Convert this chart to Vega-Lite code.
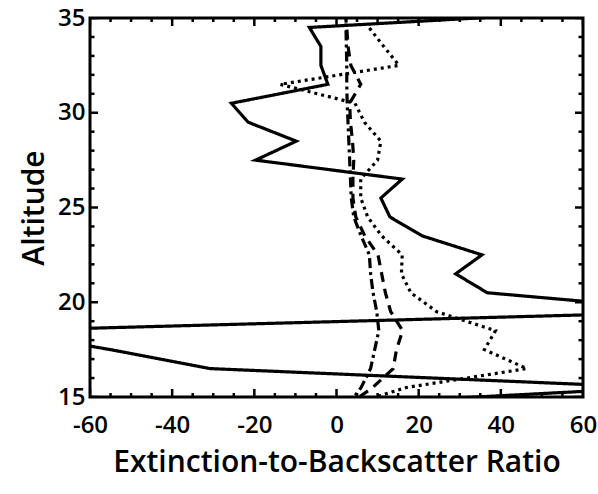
{
  "$schema": "https://vega.github.io/schema/vega-lite/v6.json",
  "width": 493,
  "height": 379,
  "autosize": "none",
  "padding": {"left": 90, "top": 18, "right": 15, "bottom": 97},
  "background": "white",
  "config": {
    "view": {"stroke": "black", "strokeWidth": 3},
    "font": "Open Sans",
    "axis": {"domain": false, "grid": false, "labelColor": "black", "titleColor": "black"}
  },
  "datasets": {
    "profiles": [
      {"s": "solid", "alt": 35.5, "v": 75}, {"s": "solid", "alt": 34.5, "v": -6.6}, {"s": "solid", "alt": 33.5, "v": -3.8}, {"s": "solid", "alt": 32.5, "v": -3.8}, {"s": "solid", "alt": 31.5, "v": -2.1}, {"s": "solid", "alt": 30.5, "v": -25.6}, {"s": "solid", "alt": 29.5, "v": -21.5}, {"s": "solid", "alt": 28.5, "v": -9.8}, {"s": "solid", "alt": 27.5, "v": -19.7}, {"s": "solid", "alt": 26.5, "v": 16.0}, {"s": "solid", "alt": 25.5, "v": 10.8}, {"s": "solid", "alt": 24.5, "v": 13.0}, {"s": "solid", "alt": 23.5, "v": 20.9}, {"s": "solid", "alt": 22.5, "v": 35.4}, {"s": "solid", "alt": 21.5, "v": 29.0}, {"s": "solid", "alt": 20.5, "v": 36.7}, {"s": "solid", "alt": 19.5, "v": 89}, {"s": "solid", "alt": 18.5, "v": -82}, {"s": "solid", "alt": 17.5, "v": -55}, {"s": "solid", "alt": 16.5, "v": -30.8}, {"s": "solid", "alt": 15.5, "v": 78}, {"s": "solid", "alt": 14.5, "v": -10},
      {"s": "dotted", "alt": 34.5, "v": 7.9}, {"s": "dotted", "alt": 33.5, "v": 11.5}, {"s": "dotted", "alt": 32.5, "v": 15.2}, {"s": "dotted", "alt": 31.5, "v": -13.7}, {"s": "dotted", "alt": 30.5, "v": 4.5}, {"s": "dotted", "alt": 29.5, "v": 6.8}, {"s": "dotted", "alt": 28.5, "v": 10.8}, {"s": "dotted", "alt": 27.5, "v": 10.0}, {"s": "dotted", "alt": 26.5, "v": 5.9}, {"s": "dotted", "alt": 25.5, "v": 5.9}, {"s": "dotted", "alt": 24.5, "v": 7.6}, {"s": "dotted", "alt": 23.5, "v": 11.0}, {"s": "dotted", "alt": 22.5, "v": 16.0}, {"s": "dotted", "alt": 21.5, "v": 15.8}, {"s": "dotted", "alt": 20.5, "v": 18.1}, {"s": "dotted", "alt": 19.5, "v": 24.4}, {"s": "dotted", "alt": 18.5, "v": 38.7}, {"s": "dotted", "alt": 17.5, "v": 36.0}, {"s": "dotted", "alt": 16.5, "v": 46.3}, {"s": "dotted", "alt": 15.5, "v": 17}, {"s": "dotted", "alt": 14.5, "v": 2},
      {"s": "dashed", "alt": 35.5, "v": 2.0}, {"s": "dashed", "alt": 34.5, "v": 2.5}, {"s": "dashed", "alt": 33.5, "v": 2.8}, {"s": "dashed", "alt": 32.5, "v": 3.5}, {"s": "dashed", "alt": 31.5, "v": 5.9}, {"s": "dashed", "alt": 30.5, "v": 3.2}, {"s": "dashed", "alt": 29.5, "v": 3.4}, {"s": "dashed", "alt": 28.5, "v": 3.9}, {"s": "dashed", "alt": 27.5, "v": 4.2}, {"s": "dashed", "alt": 26.5, "v": 4.0}, {"s": "dashed", "alt": 25.5, "v": 4.0}, {"s": "dashed", "alt": 24.5, "v": 4.7}, {"s": "dashed", "alt": 23.5, "v": 6.9}, {"s": "dashed", "alt": 22.5, "v": 10.1}, {"s": "dashed", "alt": 21.5, "v": 11.0}, {"s": "dashed", "alt": 20.5, "v": 11.9}, {"s": "dashed", "alt": 19.5, "v": 13.2}, {"s": "dashed", "alt": 18.5, "v": 16.1}, {"s": "dashed", "alt": 17.5, "v": 14.6}, {"s": "dashed", "alt": 16.5, "v": 13.8}, {"s": "dashed", "alt": 15.5, "v": 8.8}, {"s": "dashed", "alt": 14.5, "v": 2.3},
      {"s": "dashdot", "alt": 35.5, "v": 2.2}, {"s": "dashdot", "alt": 34.5, "v": 2.3}, {"s": "dashdot", "alt": 33.5, "v": 2.4}, {"s": "dashdot", "alt": 32.5, "v": 2.5}, {"s": "dashdot", "alt": 31.5, "v": 2.5}, {"s": "dashdot", "alt": 30.5, "v": 2.6}, {"s": "dashdot", "alt": 29.5, "v": 2.8}, {"s": "dashdot", "alt": 28.5, "v": 3.0}, {"s": "dashdot", "alt": 27.5, "v": 3.2}, {"s": "dashdot", "alt": 26.5, "v": 3.4}, {"s": "dashdot", "alt": 25.5, "v": 3.6}, {"s": "dashdot", "alt": 24.5, "v": 4.2}, {"s": "dashdot", "alt": 23.5, "v": 6.0}, {"s": "dashdot", "alt": 22.5, "v": 8.0}, {"s": "dashdot", "alt": 21.5, "v": 8.3}, {"s": "dashdot", "alt": 20.5, "v": 8.9}, {"s": "dashdot", "alt": 19.5, "v": 9.8}, {"s": "dashdot", "alt": 18.5, "v": 10.3}, {"s": "dashdot", "alt": 17.5, "v": 9.3}, {"s": "dashdot", "alt": 16.5, "v": 8.3}, {"s": "dashdot", "alt": 15.5, "v": 6.0}, {"s": "dashdot", "alt": 14.5, "v": 2.5}
    ],
    "xticks": [
      {"t": -60, "major": true}, {"t": -55, "major": false}, {"t": -50, "major": false}, {"t": -45, "major": false}, {"t": -40, "major": true}, {"t": -35, "major": false}, {"t": -30, "major": false}, {"t": -25, "major": false}, {"t": -20, "major": true}, {"t": -15, "major": false}, {"t": -10, "major": false}, {"t": -5, "major": false}, {"t": 0, "major": true}, {"t": 5, "major": false}, {"t": 10, "major": false}, {"t": 15, "major": false}, {"t": 20, "major": true}, {"t": 25, "major": false}, {"t": 30, "major": false}, {"t": 35, "major": false}, {"t": 40, "major": true}, {"t": 45, "major": false}, {"t": 50, "major": false}, {"t": 55, "major": false}, {"t": 60, "major": true}
    ],
    "yticks": [
      {"t": 15, "major": true}, {"t": 16, "major": false}, {"t": 17, "major": false}, {"t": 18, "major": false}, {"t": 19, "major": false}, {"t": 20, "major": true}, {"t": 21, "major": false}, {"t": 22, "major": false}, {"t": 23, "major": false}, {"t": 24, "major": false}, {"t": 25, "major": true}, {"t": 26, "major": false}, {"t": 27, "major": false}, {"t": 28, "major": false}, {"t": 29, "major": false}, {"t": 30, "major": true}, {"t": 31, "major": false}, {"t": 32, "major": false}, {"t": 33, "major": false}, {"t": 34, "major": false}, {"t": 35, "major": true}
    ]
  },
  "layer": [
    {
      "data": {"name": "profiles"},
      "mark": {"type": "line", "clip": true, "strokeWidth": 3.2, "color": "black", "strokeCap": "butt", "strokeJoin": "miter"},
      "encoding": {
        "x": {
          "field": "v", "type": "quantitative",
          "scale": {"domain": [-60, 60], "nice": false, "zero": false},
          "axis": {
            "orient": "bottom",
            "title": "Extinction-to-Backscatter Ratio",
            "titleFont": "Open Sans", "titleFontSize": 30, "titleFontWeight": 600, "titlePadding": 10,
            "values": [-60, -40, -20, 0, 20, 40, 60],
            "labelExpr": "toString(datum.value)",
            "labelFont": "Open Sans", "labelFontSize": 24, "labelFontWeight": 600,
            "labelPadding": 16, "labelOverlap": false, "labelFlush": false,
            "ticks": false
          }
        },
        "y": {
          "field": "alt", "type": "quantitative",
          "scale": {"domain": [15, 35], "nice": false, "zero": false},
          "axis": {
            "orient": "left",
            "title": "Altitude",
            "titleFont": "Open Sans", "titleFontSize": 30, "titleFontWeight": 600, "titlePadding": 8,
            "values": [15, 20, 25, 30, 35],
            "labelFont": "Open Sans", "labelFontSize": 24, "labelFontWeight": 600,
            "labelPadding": 5, "labelOverlap": false, "labelFlush": false,
            "ticks": false
          }
        },
        "strokeDash": {
          "field": "s", "type": "nominal", "legend": null,
          "scale": {"domain": ["solid", "dotted", "dashed", "dashdot"], "range": [[1, 0], [3, 4], [10, 7], [10, 4, 3, 4]]}
        },
        "order": {"field": "alt", "type": "quantitative"}
      }
    },
    {
      "data": {"name": "xticks"},
      "mark": {"type": "tick", "orient": "vertical", "clip": true, "color": "black", "thickness": 2.5, "opacity": 1},
      "encoding": {
        "x": {"field": "t", "type": "quantitative"},
        "y": {"datum": 15, "type": "quantitative"},
        "size": {"condition": {"test": "datum.major", "value": 16}, "value": 8}
      }
    },
    {
      "data": {"name": "xticks"},
      "mark": {"type": "tick", "orient": "vertical", "clip": true, "color": "black", "thickness": 2.5, "opacity": 1},
      "encoding": {
        "x": {"field": "t", "type": "quantitative"},
        "y": {"datum": 35, "type": "quantitative"},
        "size": {"condition": {"test": "datum.major", "value": 16}, "value": 8}
      }
    },
    {
      "data": {"name": "yticks"},
      "mark": {"type": "tick", "orient": "horizontal", "clip": true, "color": "black", "thickness": 2.5, "opacity": 1},
      "encoding": {
        "y": {"field": "t", "type": "quantitative"},
        "x": {"datum": -60, "type": "quantitative"},
        "size": {"condition": {"test": "datum.major", "value": 16}, "value": 9}
      }
    },
    {
      "data": {"name": "yticks"},
      "mark": {"type": "tick", "orient": "horizontal", "clip": true, "color": "black", "thickness": 2.5, "opacity": 1},
      "encoding": {
        "y": {"field": "t", "type": "quantitative"},
        "x": {"datum": 60, "type": "quantitative"},
        "size": {"condition": {"test": "datum.major", "value": 16}, "value": 9}
      }
    }
  ]
}
